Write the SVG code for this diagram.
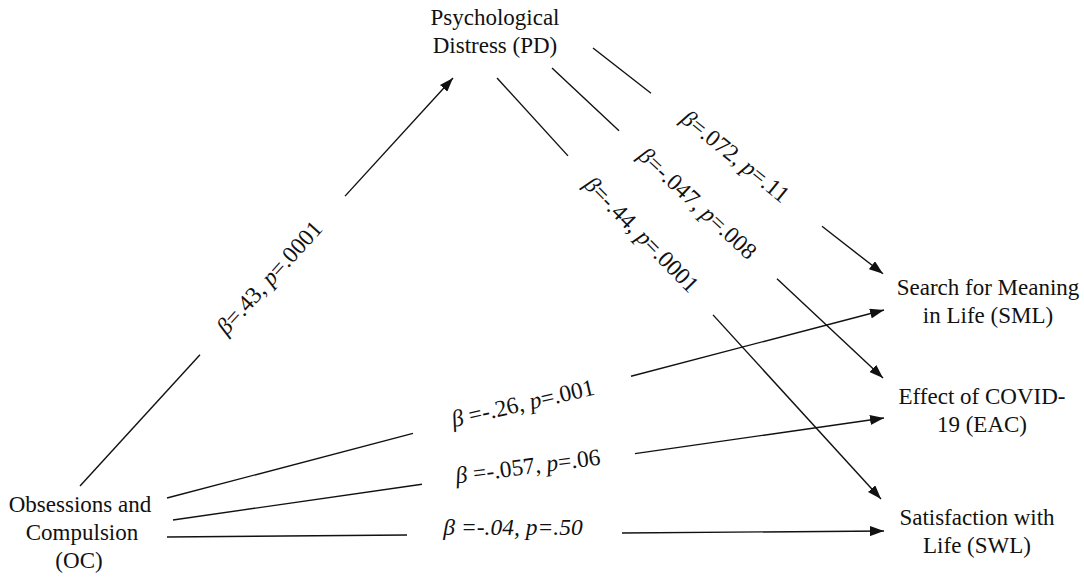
<svg xmlns="http://www.w3.org/2000/svg" width="1084" height="578" viewBox="0 0 1084 578">
<style>
.node text{font-family:"Liberation Serif","Times New Roman",serif;font-size:23px;fill:#111;text-anchor:middle}
.lab{font-family:"Liberation Serif","Times New Roman",serif;font-size:23.5px;fill:#111;text-anchor:middle}
.it{font-style:italic}
.conn line{stroke:#111;stroke-width:1.4;fill:none}
</style>
<defs>
<marker id="ah" markerUnits="userSpaceOnUse" markerWidth="15" markerHeight="10" refX="14" refY="5" orient="auto">
<path d="M0,0 L14,5 L0,10 z" fill="#111"/>
</marker>
</defs>
<rect width="1084" height="578" fill="#fff"/>
<g id="connectors" class="conn">
<line x1="80" y1="486" x2="200" y2="354.7"/>
<line x1="345" y1="196.1" x2="453" y2="78" marker-end="url(#ah)"/>
<line x1="593" y1="48" x2="651" y2="93.2"/>
<line x1="822" y1="226.3" x2="883" y2="273.8" marker-end="url(#ah)"/>
<line x1="552" y1="68" x2="619" y2="130.7"/>
<line x1="777" y1="278.7" x2="883" y2="378" marker-end="url(#ah)"/>
<line x1="497" y1="78" x2="568" y2="155.9"/>
<line x1="713" y1="314.9" x2="881" y2="499" marker-end="url(#ah)"/>
<line x1="167" y1="498" x2="413" y2="433.4"/>
<line x1="631" y1="376.2" x2="884" y2="310" marker-end="url(#ah)"/>
<line x1="173" y1="520" x2="422" y2="484.2"/>
<line x1="635" y1="453.6" x2="884" y2="418" marker-end="url(#ah)"/>
<line x1="167" y1="537" x2="407" y2="535"/>
<line x1="622" y1="533" x2="884" y2="531" marker-end="url(#ah)"/>
</g>
<g id="labels">
<text class="lab" transform="translate(270,278) rotate(-47.6)" y="7"><tspan class="it">β</tspan>=.43, <tspan class="it">p</tspan>=.0001</text>
<text class="lab" transform="translate(735,157) rotate(39)" y="7"><tspan class="it">β</tspan>=.072, <tspan class="it">p</tspan>=.11</text>
<text class="lab" transform="translate(697,204) rotate(43)" y="7"><tspan class="it">β</tspan>=-.047, <tspan class="it">p</tspan>=.008</text>
<text class="lab" transform="translate(641,235) rotate(45.5)" y="7"><tspan class="it">β</tspan>=-.44, <tspan class="it">p</tspan>=.0001</text>
<text class="lab" transform="translate(523,404) rotate(-13)" y="7"><tspan class="it">β</tspan> =-.26, <tspan class="it">p</tspan>=.001</text>
<text class="lab" transform="translate(528,467) rotate(-7.5)" y="7"><tspan class="it">β</tspan> =-.057, <tspan class="it">p</tspan>=.06</text>
<text class="lab it" x="513" y="535">β =-.04, p=.50</text>
</g>
<g id="PD" class="node">
<text x="495" y="25">Psychological</text>
<text x="495" y="53">Distress (PD)</text>
</g>
<g id="OC" class="node">
<text x="80" y="512">Obsessions and</text>
<text x="82" y="540">Compulsion</text>
<text x="79" y="568">(OC)</text>
</g>
<g id="SML" class="node">
<text x="988" y="295">Search  for Meaning</text>
<text x="988" y="323">in Life (SML)</text>
</g>
<g id="EAC" class="node">
<text x="982" y="404">Effect of COVID-</text>
<text x="982" y="432">19 (EAC)</text>
</g>
<g id="SWL" class="node">
<text x="977" y="525">Satisfaction  with</text>
<text x="977" y="553">Life (SWL)</text>
</g>
</svg>
